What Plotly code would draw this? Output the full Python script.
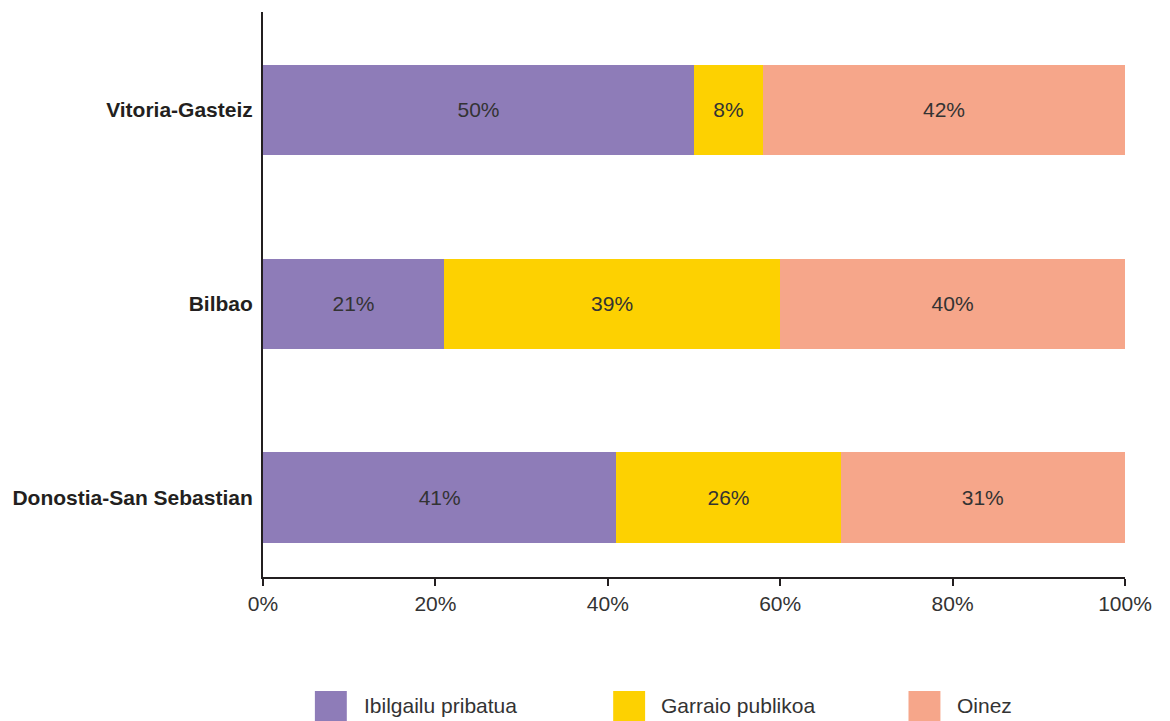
import plotly.graph_objects as go

cities = ["Donostia-San Sebastian", "Bilbao", "Vitoria-Gasteiz"]
modes = ["Ibilgailu pribatua", "Garraio publikoa", "Oinez"]
ibilgailu = [41, 21, 50]
garraio = [26, 39, 8]
oinez = [33, 40, 42]
labels = {
    "Ibilgailu pribatua": ["41%", "21%", "50%"],
    "Garraio publikoa": ["26%", "39%", "8%"],
    "Oinez": ["31%", "40%", "42%"],
}
x_ticks = [0, 20, 40, 60, 80, 100]

COLORS = ["#8E7CB8", "#FDD101", "#F6A68A"]
FONT = "Liberation Sans, Arial, sans-serif"

fig = go.Figure()
for name, vals, color in zip(modes, [ibilgailu, garraio, oinez], COLORS):
    fig.add_trace(go.Bar(
        y=cities,
        x=vals,
        name=name,
        orientation="h",
        marker=dict(color=color, line=dict(width=0)),
        width=0.465,
        text=labels[name],
        textposition="inside",
        insidetextanchor="middle",
        textfont=dict(size=21, color="#333333", family=FONT),
        showlegend=False,
        hovertemplate="%{y}: %{text}<extra>" + name + "</extra>",
    ))

# custom legend: square swatches with labels (page sits 8px in from the window edge)
legend_x = [313, 612, 908]
legend_text_x = [360, 658, 955]
for name, color, lx, tx in zip(modes, COLORS, legend_x, legend_text_x):
    fig.add_shape(
        type="rect", xref="paper", yref="paper",
        x0=(lx - 261) / 864, x1=(lx + 32 - 261) / 864,
        y0=(577 - 691) / 565, y1=(577 - 721) / 565,
        fillcolor=color, line=dict(width=0),
    )
    fig.add_annotation(
        text=name, xref="paper", yref="paper",
        x=(tx - 261) / 864, y=(577 - 705) / 565,
        xanchor="left", yanchor="middle", showarrow=False,
        font=dict(size=21, color="#333333", family=FONT),
    )

fig.update_layout(
    barmode="stack",
    width=1162,
    height=713,
    margin=dict(l=253, r=45, t=4, b=144),
    paper_bgcolor="white",
    plot_bgcolor="white",
    font=dict(family=FONT, color="#222222"),
    xaxis=dict(
        range=[0, 100],
        tickvals=x_ticks,
        ticktext=[f"{v}%" for v in x_ticks],
        ticks="outside",
        ticklen=7,
        tickwidth=2,
        tickcolor="#231F20",
        showline=True,
        linecolor="#231F20",
        linewidth=2,
        showgrid=False,
        zeroline=False,
        tickfont=dict(size=21, color="#333333", family=FONT),
    ),
    yaxis=dict(
        categoryorder="array",
        categoryarray=cities,
        range=[-0.41, 2.505],
        showline=True,
        linecolor="#231F20",
        linewidth=2,
        showgrid=False,
        zeroline=False,
        ticks="",
        ticklabelstandoff=4,
        tickfont=dict(size=21, color="#231F20", family=FONT, weight="bold"),
    ),
    uniformtext=dict(minsize=10, mode="show"),
)

fig.write_html("out.html")
